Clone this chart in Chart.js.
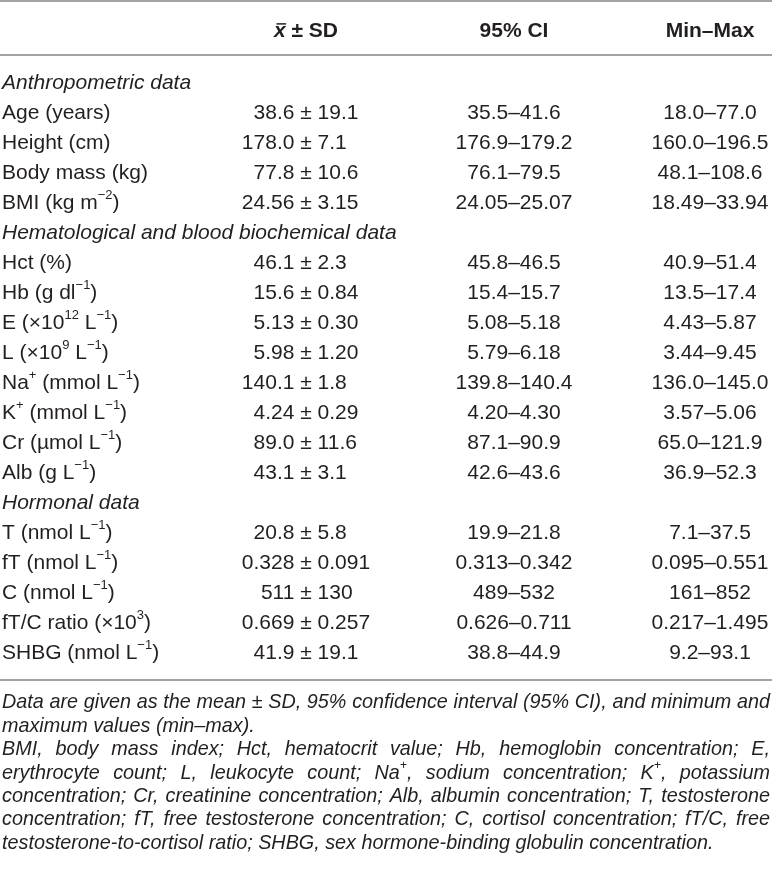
<!DOCTYPE html>
<html>
<head>
<meta charset="utf-8">
<title>Descriptive statistics</title>
<script src="https://cdn.jsdelivr.net/npm/chart.js@4.4.1/dist/chart.umd.min.js"></script>
<style>
  html, body { margin: 0; padding: 0; background: #fff; }
  #wrap { position: relative; width: 772px; height: 883px; }
</style>
</head>
<body>
<div id="wrap"><canvas id="statsTable"></canvas></div>
<script>
// ---- table content ----
// ^{...} marks a superscript
const rowLabels = [
  "Anthropometric data",
  "Age (years)",
  "Height (cm)",
  "Body mass (kg)",
  "BMI (kg m^{−2})",
  "Hematological and blood biochemical data",
  "Hct (%)",
  "Hb (g dl^{−1})",
  "E (×10^{12} L^{−1})",
  "L (×10^{9} L^{−1})",
  "Na^{+} (mmol L^{−1})",
  "K^{+} (mmol L^{−1})",
  "Cr (µmol L^{−1})",
  "Alb (g L^{−1})",
  "Hormonal data",
  "T (nmol L^{−1})",
  "fT (nmol L^{−1})",
  "C (nmol L^{−1})",
  "fT/C ratio (×10^{3})",
  "SHBG (nmol L^{−1})"
];
const groupRows = [0, 5, 14];

const meanSD = ["", "38.6 ± 19.1", "178.0 ± 7.1", "77.8 ± 10.6", "24.56 ± 3.15",
  "", "46.1 ± 2.3", "15.6 ± 0.84", "5.13 ± 0.30", "5.98 ± 1.20", "140.1 ± 1.8",
  "4.24 ± 0.29", "89.0 ± 11.6", "43.1 ± 3.1",
  "", "20.8 ± 5.8", "0.328 ± 0.091", "511 ± 130", "0.669 ± 0.257", "41.9 ± 19.1"];

const ci95 = ["", "35.5–41.6", "176.9–179.2", "76.1–79.5", "24.05–25.07",
  "", "45.8–46.5", "15.4–15.7", "5.08–5.18", "5.79–6.18", "139.8–140.4",
  "4.20–4.30", "87.1–90.9", "42.6–43.6",
  "", "19.9–21.8", "0.313–0.342", "489–532", "0.626–0.711", "38.8–44.9"];

const minMax = ["", "18.0–77.0", "160.0–196.5", "48.1–108.6", "18.49–33.94",
  "", "40.9–51.4", "13.5–17.4", "4.43–5.87", "3.44–9.45", "136.0–145.0",
  "3.57–5.06", "65.0–121.9", "36.9–52.3",
  "", "7.1–37.5", "0.095–0.551", "161–852", "0.217–1.495", "9.2–93.1"];

const colHeaders = ["", "x ± SD", "95% CI", "Min–Max"];

const footnotes = [
  "Data are given as the mean ± SD, 95% confidence interval (95% CI), and minimum and",
  "maximum values (min–max).",
  "BMI, body mass index; Hct, hematocrit value; Hb, hemoglobin concentration; E,",
  "erythrocyte count; L, leukocyte count; Na^{+}, sodium concentration; K^{+}, potassium",
  "concentration; Cr, creatinine concentration; Alb, albumin concentration; T, testosterone",
  "concentration; fT, free testosterone concentration; C, cortisol concentration; fT/C, free",
  "testosterone-to-cortisol ratio; SHBG, sex hormone-binding globulin concentration."
];
const lastLineOfPara = [1, 6];

// ---- layout ----
const FONT = '"Liberation Sans", Arial, Helvetica, sans-serif';
const INK = '#231f20';
const RULE = '#a3a3a3';
const BODY_PX = 21;
const FOOT_PX = 19.8;
const ROW_PX = 30;          // pixels per table row
const FIRST_ROW_PX = 83;    // centre of row 0
const COL_X = [2, 306, 514, 710];   // label left edge, then column anchors
const HEADER_ROW = -1.72;
const RULE_ROWS = [-2.74, -0.94, 19.9];
const FOOT_ROW0 = 20.66, FOOT_STEP = 0.78;
const TEXT_LEFT = 2, TEXT_RIGHT = 770;

function parseRich(text) {
  const parts = [];
  text.split(/(\^\{[^}]*\})/).forEach(s => {
    if (!s) return;
    if (s.startsWith('^{')) parts.push({ t: s.slice(2, -1), sup: true });
    else parts.push({ t: s, sup: false });
  });
  return parts;
}

function richWidth(ctx, parts, size, style) {
  let w = 0;
  parts.forEach(p => {
    ctx.font = style + ' ' + (p.sup ? size * 0.62 : size) + 'px ' + FONT;
    p.w = ctx.measureText(p.t).width;
    w += p.w;
  });
  return w;
}

function drawRich(ctx, text, x, y, size, style, align) {
  const parts = parseRich(text);
  const w = richWidth(ctx, parts, size, style);
  let cx = align === 'center' ? x - w / 2 : align === 'right' ? x - w : x;
  ctx.textAlign = 'left';
  ctx.textBaseline = 'middle';
  parts.forEach(p => {
    ctx.font = style + ' ' + (p.sup ? size * 0.62 : size) + 'px ' + FONT;
    ctx.fillText(p.t, cx, p.sup ? y - size * 0.36 : y);
    cx += p.w;
  });
  return w;
}

const tablePlugin = {
  id: 'tableText',
  afterDatasetsDraw(chart) {
    const ctx = chart.ctx;
    const xs = chart.scales.x, ys = chart.scales.y;
    ctx.save();
    ctx.fillStyle = INK;

    // rules
    ctx.strokeStyle = RULE;
    ctx.lineWidth = 2;
    RULE_ROWS.forEach(r => {
      const py = Math.round(ys.getPixelForValue(r));
      ctx.beginPath();
      ctx.moveTo(chart.chartArea.left, py);
      ctx.lineTo(chart.chartArea.right, py);
      ctx.stroke();
    });

    // column headers
    const hy = ys.getPixelForValue(HEADER_ROW);
    colHeaders.forEach((h, c) => {
      if (!h) return;
      const hx = xs.getPixelForValue(COL_X[c]);
      ctx.textBaseline = 'middle';
      if (h.startsWith('x ')) {
        const rest = h.slice(1);
        ctx.font = 'italic bold ' + BODY_PX + 'px ' + FONT;
        const wx = ctx.measureText('x').width;
        ctx.font = 'bold ' + BODY_PX + 'px ' + FONT;
        const wr = ctx.measureText(rest).width;
        const x0 = hx - (wx + wr) / 2;
        ctx.textAlign = 'left';
        ctx.font = 'italic bold ' + BODY_PX + 'px ' + FONT;
        ctx.fillText('x', x0, hy);
        ctx.font = 'bold ' + BODY_PX + 'px ' + FONT;
        ctx.fillText(rest, x0 + wx, hy);
        // macron over the x
        ctx.strokeStyle = INK;
        ctx.lineWidth = 1.5;
        ctx.beginPath();
        ctx.moveTo(x0 + 2.5, hy - 7.5);
        ctx.lineTo(x0 + wx + 0.5, hy - 7.5);
        ctx.stroke();
      } else {
        ctx.font = 'bold ' + BODY_PX + 'px ' + FONT;
        ctx.textAlign = 'center';
        ctx.fillText(h, hx, hy);
      }
    });

    // cells, placed at each dataset point
    chart.data.datasets.forEach((ds, c) => {
      const meta = chart.getDatasetMeta(c);
      meta.data.forEach((pt, i) => {
        const txt = ds.cells[i];
        if (!txt) return;
        if (c === 0) {
          const style = groupRows.includes(i) ? 'italic' : 'normal';
          drawRich(ctx, txt, pt.x, pt.y, BODY_PX, style, 'left');
        } else if (txt.includes(' ± ')) {
          const [a, b] = txt.split(' ± ');
          ctx.font = BODY_PX + 'px ' + FONT;
          ctx.textBaseline = 'middle';
          const pmW = ctx.measureText('±').width;
          const sp = ctx.measureText(' ').width;
          ctx.textAlign = 'right';
          ctx.fillText(a, pt.x - pmW / 2 - sp, pt.y);
          ctx.textAlign = 'center';
          ctx.fillText('±', pt.x, pt.y);
          ctx.textAlign = 'left';
          ctx.fillText(b, pt.x + pmW / 2 + sp, pt.y);
        } else {
          drawRich(ctx, txt, pt.x, pt.y, BODY_PX, 'normal', 'center');
        }
      });
    });

    // footnotes, justified
    footnotes.forEach((line, k) => {
      const fy = ys.getPixelForValue(FOOT_ROW0 + k * FOOT_STEP);
      const left = xs.getPixelForValue(TEXT_LEFT);
      if (lastLineOfPara.includes(k)) {
        drawRich(ctx, line, left, fy, FOOT_PX, 'italic', 'left');
        return;
      }
      const words = line.split(' ');
      const widths = words.map(w => richWidth(ctx, parseRich(w), FOOT_PX, 'italic'));
      const total = widths.reduce((s, v) => s + v, 0);
      const gap = (xs.getPixelForValue(TEXT_RIGHT) - left - total) / (words.length - 1);
      let cx = left;
      words.forEach((w, j) => {
        drawRich(ctx, w, cx, fy, FOOT_PX, 'italic', 'left');
        cx += widths[j] + gap;
      });
    });

    ctx.restore();
  }
};

const columns = [rowLabels, meanSD, ci95, minMax];

const data = {
  datasets: columns.map((cells, c) => ({
    cells: cells,
    data: cells.map((_, i) => ({ x: COL_X[c], y: i })),
    pointRadius: 0,
    pointHoverRadius: 0
  }))
};

const config = {
  type: 'scatter',
  data: data,
  options: {
    responsive: true,
    maintainAspectRatio: false,
    animation: false,
    events: [],
    layout: { padding: 0 },
    scales: {
      x: { type: 'linear', min: 0, max: 772, display: false },
      y: {
        type: 'linear',
        reverse: true,
        min: -FIRST_ROW_PX / ROW_PX,
        max: (883 - FIRST_ROW_PX) / ROW_PX,
        display: false
      }
    },
    plugins: {
      legend: { display: false },
      tooltip: { enabled: false },
      title: { display: false }
    }
  },
  plugins: [tablePlugin]
};

var statsChart = new Chart(document.getElementById('statsTable'), config);
</script>
</body>
</html>
